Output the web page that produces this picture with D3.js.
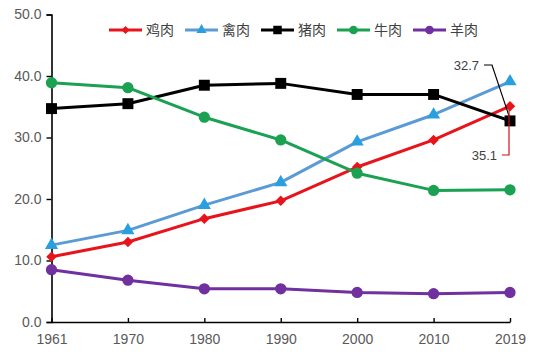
<!DOCTYPE html>
<html><head><meta charset="utf-8">
<script src="https://cdn.jsdelivr.net/npm/d3@7/dist/d3.min.js"></script>
<style>body{margin:0;background:#fff}svg{display:block}</style>
</head><body>
<svg id="c" width="534" height="355"></svg>
<script>
const years = ["1961","1970","1980","1990","2000","2010","2019"];
const chicken = [10.6, 13.0, 16.8, 19.7, 25.2, 29.6, 35.1];
const poultry = [12.5, 14.9, 19.0, 22.7, 29.3, 33.7, 39.1];
const pork    = [34.7, 35.5, 38.5, 38.8, 37.0, 37.0, 32.7];
const beef    = [38.9, 38.1, 33.3, 29.6, 24.2, 21.4, 21.5];
const mutton  = [8.5, 6.8, 5.4, 5.4, 4.8, 4.6, 4.8];
const seriesNames = ["鸡肉","禽肉","猪肉","牛肉","羊肉"];
const yTicks = [0,10,20,30,40,50];

const series = [
  {name:seriesNames[0], values:chicken, line:"#e8141c", fill:"#e8141c", sym:d3.symbolDiamond2, size:70},
  {name:seriesNames[1], values:poultry, line:"#5b9bd5", fill:"#2a9fe0", sym:d3.symbolTriangle, size:75},
  {name:seriesNames[2], values:pork,    line:"#000000", fill:"#000000", sym:d3.symbolSquare, size:120},
  {name:seriesNames[3], values:beef,    line:"#1aa151", fill:"#1aa151", sym:d3.symbolCircle, size:100},
  {name:seriesNames[4], values:mutton,  line:"#7030a0", fill:"#7030a0", sym:d3.symbolCircle, size:100}
];

const svg = d3.select("#c");
const x = d3.scalePoint().domain(years).range([51.5, 510]);
const y = d3.scaleLinear().domain([0,50]).range([322, 14.5]);
const font = "'Liberation Sans', Arial, sans-serif";

// Y axis
const ya = svg.append("g").attr("transform","translate(51.5,0)")
  .call(d3.axisLeft(y).tickValues(yTicks).tickFormat(d3.format(".1f")).tickSize(5).tickPadding(5));
ya.select(".domain").attr("stroke","#000").attr("stroke-width",1.6);
ya.selectAll(".tick line").attr("stroke","#000").attr("stroke-width",1.4);
ya.selectAll(".tick text").attr("fill","#595959").attr("font-size",14).attr("font-family",font);

// X axis
const xa = svg.append("g").attr("transform","translate(0,322)")
  .call(d3.axisBottom(x).tickSize(-4).tickSizeOuter(0).tickPadding(12));
xa.select(".domain").attr("stroke","#000").attr("stroke-width",1.6);
xa.selectAll(".tick line").attr("stroke","#000").attr("stroke-width",1.4);
xa.selectAll(".tick text").attr("fill","#595959").attr("font-size",14).attr("font-family",font);

// Series
const line = d3.line().x((d,i)=>x(years[i])).y(d=>y(d));
series.forEach(s=>{
  const g = svg.append("g");
  g.append("path").attr("d", line(s.values)).attr("fill","none")
    .attr("stroke", s.line).attr("stroke-width",3).attr("stroke-linejoin","round");
  g.selectAll("path.m").data(s.values).join("path").attr("class","m")
    .attr("transform",(d,i)=>`translate(${x(years[i])},${y(d)})`)
    .attr("d", d3.symbol().type(s.sym).size(s.size)())
    .attr("fill", s.fill);
});

// Annotations
const xl = x("2019");
const pk = pork[6], ck = chicken[6];
svg.append("text").attr("x",479).attr("y",65).attr("dy","0.35em").attr("text-anchor","end")
  .attr("font-size",13).attr("font-family",font).attr("fill","#404040").text(pk.toFixed(1));
svg.append("path").attr("d",`M484,65 L492,65 L${xl-1},${y(pk)-5}`)
  .attr("fill","none").attr("stroke","#000").attr("stroke-width",1.2);
svg.append("text").attr("x",497).attr("y",155).attr("dy","0.35em").attr("text-anchor","end")
  .attr("font-size",13).attr("font-family",font).attr("fill","#404040").text(ck.toFixed(1));
svg.append("path").attr("d",`M502,155 L${xl-1},155 L${xl-1},${y(ck)+4}`)
  .attr("fill","none").attr("stroke","#c8141c").attr("stroke-width",1.2);

// Legend
const lg = svg.append("g");
series.forEach((s,i)=>{
  const lx = 109 + i*76, ly = 30;
  const g = lg.append("g").attr("transform",`translate(${lx},${ly})`);
  g.append("line").attr("x1",0).attr("x2",33).attr("stroke",s.line).attr("stroke-width",3);
  g.append("path").attr("transform","translate(16.5,0)")
    .attr("d", d3.symbol().type(s.sym).size(s.size*0.6)()).attr("fill",s.fill);
  g.append("text").attr("x",37).attr("dy","0.35em").attr("font-size",14)
    .attr("font-family","'Noto Sans CJK SC', sans-serif").attr("fill","#404040").text(s.name);
});
</script>
</body></html>
